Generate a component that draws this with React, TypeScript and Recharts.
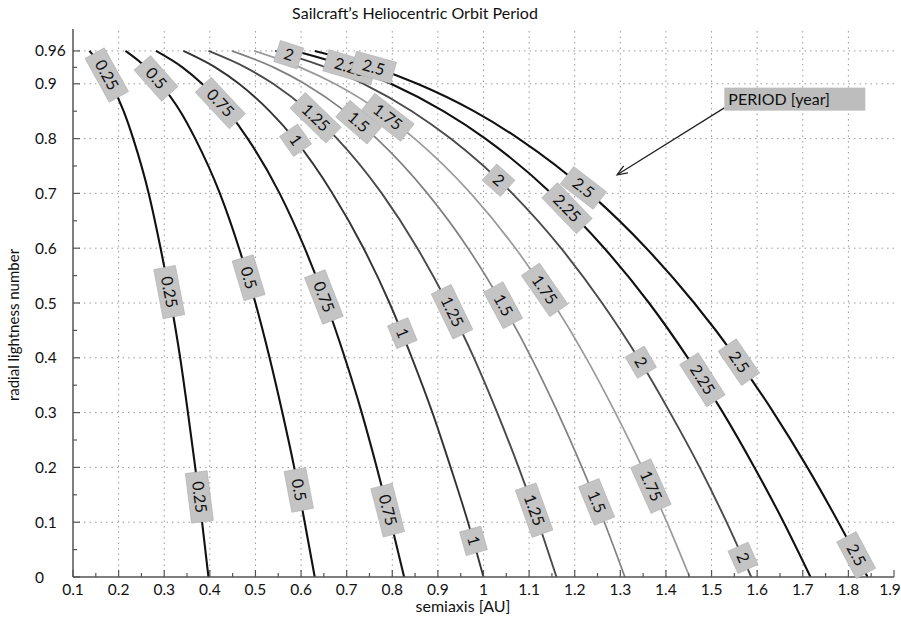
import { LineChart, Line, XAxis, YAxis, ReferenceLine, ReferenceDot } from "recharts";

// lightness levels where each period curve was sampled (top of plot first)
const betaLevels = [0.96, 0.93, 0.9, 0.85, 0.8, 0.7, 0.6, 0.5, 0.4, 0.3, 0.2, 0.1, 0];

// semiaxis [AU] of each constant-period curve at the levels above
const semiaxis025 = [0.136, 0.164, 0.184, 0.211, 0.232, 0.266, 0.292, 0.315, 0.335, 0.352, 0.368, 0.383, 0.397];
const semiaxis050 = [0.215, 0.26, 0.292, 0.335, 0.368, 0.422, 0.464, 0.5, 0.531, 0.559, 0.585, 0.608, 0.63];
const semiaxis075 = [0.282, 0.34, 0.383, 0.439, 0.483, 0.553, 0.608, 0.655, 0.696, 0.733, 0.766, 0.797, 0.826];
const semiaxis100 = [0.342, 0.412, 0.464, 0.531, 0.585, 0.669, 0.737, 0.794, 0.843, 0.888, 0.928, 0.966, 1.0];
const semiaxis125 = [0.397, 0.478, 0.539, 0.617, 0.679, 0.777, 0.855, 0.921, 0.979, 1.03, 1.077, 1.12, 1.16];
const semiaxis150 = [0.448, 0.54, 0.608, 0.696, 0.766, 0.877, 0.966, 1.04, 1.105, 1.163, 1.216, 1.265, 1.31];
const semiaxis175 = [0.497, 0.598, 0.674, 0.772, 0.849, 0.972, 1.07, 1.153, 1.225, 1.289, 1.348, 1.402, 1.452];
const semiaxis200 = [0.543, 0.654, 0.737, 0.843, 0.928, 1.063, 1.17, 1.26, 1.339, 1.409, 1.474, 1.533, 1.587];
const semiaxis225 = [0.587, 0.708, 0.797, 0.912, 1.004, 1.149, 1.265, 1.363, 1.448, 1.525, 1.594, 1.658, 1.717];
const semiaxis250 = [0.63, 0.759, 0.855, 0.979, 1.077, 1.233, 1.357, 1.462, 1.554, 1.636, 1.71, 1.778, 1.842];

const periods = ["0.25", "0.5", "0.75", "1", "1.25", "1.5", "1.75", "2", "2.25", "2.5"];
const semiaxes = [semiaxis025, semiaxis050, semiaxis075, semiaxis100, semiaxis125, semiaxis150, semiaxis175, semiaxis200, semiaxis225, semiaxis250];

// contour label anchors (period, semiaxis, lightness)
const contourLabels: [string, number, number][] = [
  ["0.25", 0.174, 0.916], ["0.25", 0.311, 0.52], ["0.25", 0.377, 0.146],
  ["0.5", 0.282, 0.91], ["0.5", 0.485, 0.546], ["0.5", 0.595, 0.159],
  ["0.75", 0.423, 0.865], ["0.75", 0.65, 0.511], ["0.75", 0.79, 0.122],
  ["1", 0.588, 0.797], ["1", 0.822, 0.445], ["1", 0.978, 0.066],
  ["1.25", 0.632, 0.838], ["1.25", 0.931, 0.484], ["1.25", 1.111, 0.122],
  ["1.5", 0.726, 0.83], ["1.5", 1.043, 0.496], ["1.5", 1.248, 0.137],
  ["1.75", 0.79, 0.839], ["1.75", 1.134, 0.524], ["1.75", 1.367, 0.166],
  ["2", 0.573, 0.953], ["2", 1.033, 0.724], ["2", 1.345, 0.392], ["2", 1.569, 0.035],
  ["2.25", 0.707, 0.93], ["2.25", 1.183, 0.673], ["2.25", 1.48, 0.36],
  ["2.5", 0.759, 0.93], ["2.5", 1.219, 0.71], ["2.5", 1.56, 0.392], ["2.5", 1.817, 0.04],
];

const xMajor = [0.1, 0.2, 0.3, 0.4, 0.5, 0.6, 0.7, 0.8, 0.9, 1, 1.1, 1.2, 1.3, 1.4, 1.5, 1.6, 1.7, 1.8, 1.9];
const xMinor = [0.15, 0.25, 0.35, 0.45, 0.55, 0.65, 0.75, 0.85, 0.95, 1.05, 1.15, 1.25, 1.35, 1.45, 1.55, 1.65, 1.75, 1.85];
const yMajor = [0, 0.1, 0.2, 0.3, 0.4, 0.5, 0.6, 0.7, 0.8, 0.9, 0.96];
const yMinor = [0.05, 0.15, 0.25, 0.35, 0.45, 0.55, 0.65, 0.75, 0.85, 0.93];

const curveColors = ["#111", "#111", "#151515", "#333", "#4a4a4a", "#808080", "#9a9a9a", "#4a4a4a", "#111", "#111"];
const curveWidths = [2.1, 2.1, 2.1, 1.9, 1.9, 1.7, 1.7, 1.9, 2.1, 2.1];

const W = 901;
const H = 618;
const M = { top: 29, right: 7, bottom: 11, left: 8 };
const Y_AXIS_W = 65;
const X_AXIS_H = 30;
const PX_A = (W - M.left - M.right - Y_AXIS_W) / 1.8;
const PX_B = H - M.top - M.bottom - X_AXIS_H;
const FONT = "Lato, 'Open Sans', sans-serif";
const AXIS = "#555";

const xTicks = [...xMajor, ...xMinor].sort((p, q) => p - q);
const yTicks = [...yMajor, ...yMinor].sort((p, q) => p - q);

// each curve as {a, b} points ordered by increasing semiaxis
const curves = semiaxes.map(xs => xs.map((a, i) => ({ a, b: betaLevels[i] })));

// screen angle of a curve at a given lightness, from its neighbouring samples
function labelAngle(period: string, b: number) {
  const xs = semiaxes[periods.indexOf(period)];
  let i = 0;
  while (i < betaLevels.length - 2 && betaLevels[i + 1] > b) i++;
  const dx = (xs[i + 1] - xs[i]) * PX_A;
  const dy = (betaLevels[i] - betaLevels[i + 1]) * PX_B;
  return (Math.atan2(dy, dx) * 180) / Math.PI;
}

const isMajor = (v: number, list: number[]) => list.some(m => Math.abs(m - v) < 1e-6);

const BottomTick = (props: any) => {
  const { x, y, payload } = props;
  const major = isMajor(payload.value, xMajor);
  const last = Math.abs(payload.value - 1.9) < 1e-6;
  return (
    <g>
      <line x1={x} x2={x} y1={y} y2={y - (major ? 7 : 4)} stroke={AXIS} strokeWidth={1.2} />
      {major && (
        <text x={last ? x - 4 : x} y={y + 17.5} textAnchor="middle" fontFamily={FONT} fontSize={15.5} fill="#111">
          {payload.value}
        </text>
      )}
    </g>
  );
};

const TopTick = (props: any) => {
  const { x, y, payload } = props;
  const major = isMajor(payload.value, xMajor);
  return <line x1={x} x2={x} y1={y} y2={y + (major ? 7 : 4)} stroke={AXIS} strokeWidth={1.2} />;
};

// lightness labels sit flush left in the margin
const LeftTick = (props: any) => {
  const { x, y, payload } = props;
  const major = isMajor(payload.value, yMajor);
  return (
    <g>
      <line x1={x} x2={x + (major ? 7 : 4)} y1={y} y2={y} stroke={AXIS} strokeWidth={1.2} />
      {major && (
        <text x={x - 38} y={y + 5.5} textAnchor="start" fontFamily={FONT} fontSize={15.5} fill="#111">
          {payload.value}
        </text>
      )}
    </g>
  );
};

const RightTick = (props: any) => {
  const { x, y, payload } = props;
  const major = isMajor(payload.value, yMajor);
  return <line x1={x} x2={x - (major ? 7 : 4)} y1={y} y2={y} stroke={AXIS} strokeWidth={1.2} />;
};

const ContourTag = ({ cx, cy, text, angle }: any) => {
  const w = text.length * 8.5 + 16;
  return (
    <g transform={`translate(${cx},${cy}) rotate(${angle})`}>
      <rect x={-w / 2} y={-11} width={w} height={22} fill="#c4c4c4" stroke="#b0b0b0" strokeWidth={0.6} />
      <text x={0} y={5.5} textAnchor="middle" fontFamily={FONT} fontSize={16} fill="#111">
        {text}
      </text>
    </g>
  );
};

const Arrow = ({ x1, y1, x2, y2 }: any) => {
  const ang = Math.atan2(y2 - y1, x2 - x1);
  const len = 11;
  const spread = 0.38;
  const p1 = [x2 - len * Math.cos(ang - spread), y2 - len * Math.sin(ang - spread)];
  const p2 = [x2 - len * Math.cos(ang + spread), y2 - len * Math.sin(ang + spread)];
  return (
    <g>
      <line x1={x1} y1={y1} x2={x2} y2={y2} stroke="#222" strokeWidth={1.3} />
      <polyline points={`${p1[0]},${p1[1]} ${x2},${y2} ${p2[0]},${p2[1]}`} fill="none" stroke="#222" strokeWidth={1.3} />
    </g>
  );
};

const PeriodBox = ({ cx, cy }: any) => (
  <g>
    <rect x={cx} y={cy - 11.5} width={141} height={23} fill="#bdbdbd" />
    <text x={cx + 4} y={cy + 5.5} fontFamily={FONT} fontSize={16} fill="#111">
      PERIOD [year]
    </text>
  </g>
);

export default function App() {
  return (
    <div style={{ position: "absolute", left: 0, top: 0, width: W, height: H, background: "#fff" }}>
      <div
        style={{ position: "absolute", left: 215, top: 3, width: 400, textAlign: "center", fontFamily: FONT, fontSize: 16, color: "#111" }}
      >
        Sailcraft’s Heliocentric Orbit Period
      </div>
      <div
        style={{ position: "absolute", left: 313, top: 596, width: 300, textAlign: "center", fontFamily: FONT, fontSize: 16, color: "#111" }}
      >
        semiaxis [AU]
      </div>
      <div
        style={{
          position: "absolute", left: 13 - 150, top: 325 - 10, width: 300, height: 20, lineHeight: "20px",
          textAlign: "center", fontFamily: FONT, fontSize: 15, color: "#111", transform: "rotate(-90deg)",
        }}
      >
        radial lightness number
      </div>
      <LineChart width={W} height={H} margin={M}>
        <XAxis
          xAxisId={0} type="number" dataKey="a" domain={[0.1, 1.9]} allowDataOverflow
          ticks={xTicks} interval={0}
          tickSize={0} tickMargin={0} tickLine={false} tick={<BottomTick />}
          height={X_AXIS_H} axisLine={{ stroke: AXIS, strokeWidth: 1.5 }}
        />
        <XAxis
          xAxisId="top" orientation="top" type="number" dataKey="a" domain={[0.1, 1.9]} allowDataOverflow
          ticks={xTicks} interval={0}
          tickSize={0} tickMargin={0} tickLine={false} tick={<TopTick />}
          height={0} axisLine={{ stroke: AXIS, strokeWidth: 1.5 }}
        />
        <YAxis
          yAxisId={0} type="number" domain={[0, 1]} allowDataOverflow
          ticks={yTicks} interval={0}
          tickSize={0} tickMargin={0} tickLine={false} tick={<LeftTick />}
          width={Y_AXIS_W} axisLine={{ stroke: AXIS, strokeWidth: 1.5 }}
        />
        <YAxis
          yAxisId="right" orientation="right" type="number" domain={[0, 1]} allowDataOverflow
          ticks={yTicks} interval={0}
          tickSize={0} tickMargin={0} tickLine={false} tick={<RightTick />}
          width={0} axisLine={{ stroke: AXIS, strokeWidth: 1.5 }}
        />

        {xMajor.slice(1, -1).map(v => (
          <ReferenceLine key={`gx${v}`} x={v} stroke="#9a9a9a" strokeWidth={1} strokeDasharray="1.5 4" />
        ))}
        {yMajor.slice(1).map(v => (
          <ReferenceLine key={`gy${v}`} y={v} stroke="#9a9a9a" strokeWidth={1} strokeDasharray="1.5 4" />
        ))}

        {/* frame axes on top/right share the outermost curve, drawn invisibly */}
        <Line
          xAxisId="top" yAxisId="right" data={curves[9]} dataKey="b" type="monotone"
          stroke="none" dot={false} isAnimationActive={false}
        />

        {curves.map((data, i) => (
          <Line
            key={periods[i]} data={data} dataKey="b" type="monotone"
            stroke={curveColors[i]} strokeWidth={curveWidths[i]} dot={false} isAnimationActive={false}
          />
        ))}

        {contourLabels.map(([p, a, b], i) => (
          <ReferenceDot
            key={`lbl${i}`} x={a} y={b} r={0} ifOverflow="visible"
            shape={(props: any) => <ContourTag cx={props.cx} cy={props.cy} text={p} angle={labelAngle(p, b)} />}
          />
        ))}

        <ReferenceLine
          segment={[{ x: 1.528, y: 0.856 }, { x: 1.293, y: 0.734 }]} ifOverflow="visible"
          shape={(props: any) => <Arrow {...props} />}
        />
        <ReferenceDot x={1.528} y={0.872} r={0} ifOverflow="visible" shape={(props: any) => <PeriodBox cx={props.cx} cy={props.cy} />} />
      </LineChart>
    </div>
  );
}
